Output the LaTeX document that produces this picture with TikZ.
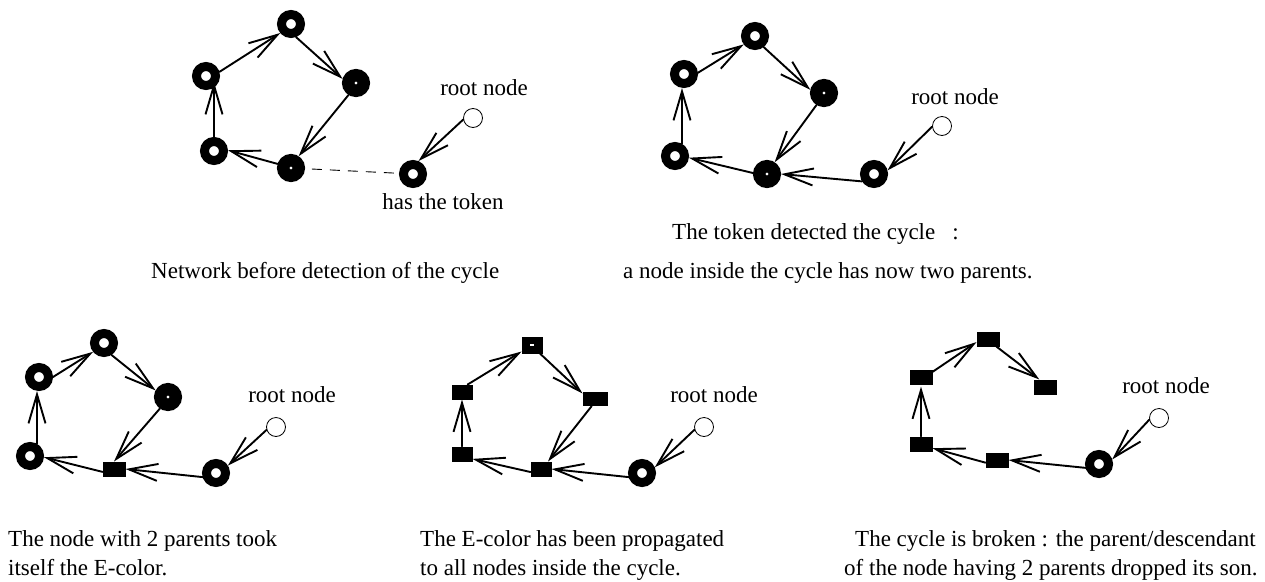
\documentclass[tikz,border=0pt]{standalone}
\usepackage{fontspec}
\setmainfont{Liberation Serif}
\usetikzlibrary{arrows.meta}
\tikzset{
  x=1pt,y=-1pt,
  ringnode/.style={circle,draw=black,fill=white,line width=9pt,minimum size=19pt,inner sep=0pt},
  dotnode/.style={circle,draw=black,fill=white,line width=12.5pt,minimum size=15.5pt,inner sep=0pt},
  rootnode/.style={circle,draw=black,fill=white,line width=0.8pt,minimum size=19pt,inner sep=0pt},
  ecolor/.style={rectangle,fill=black,draw=none,inner sep=0pt,outer sep=0pt,minimum width=23pt,minimum height=15pt},
  wideecolor/.style={ecolor,minimum width=25pt,minimum height=14pt},
  narrowecolor/.style={ecolor,minimum width=21pt},
  label/.style={font=\fontsize{23}{23}\selectfont,inner sep=0pt,anchor=base west},
  rootlabel/.style={font=\fontsize{23}{23}\selectfont,inner sep=0pt,anchor=base},
  link/.style={-{Straight Barb[length=29pt,width=17pt,line width=1.9pt]},line width=1.9pt,line cap=round},
  dashlink/.style={line width=0.9pt,dash pattern=on 10pt off 8pt,shorten <=7pt,shorten >=3pt}
}
\begin{document}
\begin{tikzpicture}
\useasboundingbox (0,0) rectangle (1265,581);
% panel 1
\node[ringnode] (a1) at (291,24) {};
\node[dotnode] (b1) at (356,83) {};
\node[dotnode] (c1) at (291,168) {};
\node[ringnode] (d1) at (214,151) {};
\node[ringnode] (e1) at (206,76) {};
\node[ringnode] (f1) at (413,174) {};
\node[rootnode] (r1) at (473,118) {};
\node[rootlabel] (t1) at (484,95) {root node};
\node[rootlabel] (h1) at (443,209) {has the token};
\draw[link] (e1.17) -- (a1.220);
\draw[link] (a1.-69) -- (b1.163);
\draw[link] (b1.238) -- (c1.57);
\draw[link] (c1.163) -- (d1.3);
\draw[link,shorten >=6pt] (d1.north) -- (d1.north |- e1.center);
\draw[link] (r1.189) -- (f1.67);
\draw[dashlink] (c1) -- (f1);
\node[label] (n1) at (151,278) {Network before detection of the cycle};
% panel 2
\node[ringnode] (a2) at (755,36) {};
\node[dotnode] (b2) at (824,93) {};
\node[dotnode] (c2) at (767,174) {};
\node[ringnode] (d2) at (675,156) {};
\node[ringnode] (e2) at (684,74) {};
\node[ringnode] (f2) at (874,174) {};
\node[rootnode] (r2) at (942,126) {};
\node[rootlabel] (t2) at (955,104) {root node};
\draw[link] (e2.5) -- (a2.217);
\draw[link] (a2.-52) -- (b2.167);
\draw[link] (b2.238) -- (c2.57);
\draw[link] (c2.176) -- (d2.-7);
\draw[link] (d2.60) -- (d2.60 |- e2.south);
\draw[link] (r2.184) -- (f2.15);
\draw[link] (f2.212) -- (c2.0);
\node[label] (n2) at (672,239) {The token detected the cycle\hspace{17pt}:};
\node[label] (m2) at (623,278) {a node inside the cycle has now two parents.};
% panel 3
\node[ringnode] (a3) at (104,343) {};
\node[dotnode] (b3) at (168,397) {};
\node[ecolor] (c3) at (114,469) {};
\node[ringnode] (d3) at (30,456) {};
\node[ringnode] (e3) at (39,377) {};
\node[ringnode] (f3) at (216,473) {};
\node[rootnode] (r3) at (276,427) {};
\node[rootlabel] (t3) at (292,402) {root node};
\draw[link] (e3.0) -- (a3.219);
\draw[link] (a3.-58) -- (b3.152);
\draw[link] (b3.235) -- (c3.north);
\draw[link] (c3.194) -- (d3.-5);
\draw[link] (d3.60) -- (d3.60 |- e3.south);
\draw[link] (r3.197) -- (f3.32);
\draw[link] (f3.197) -- (c3.east);
\node[label] (n3) at (8,546) {The node with 2 parents took};
\node[label] (m3) at (8,575) {itself the E-color.};
% panel 4
\node[narrowecolor,minimum height=17pt] (a4) at (532,345) {};
\node[fill=white,inner sep=0pt,minimum width=4pt,minimum height=1.5pt] (z4) at (532,345) {};
\node[wideecolor] (b4) at (595,399) {};
\node[narrowecolor] (c4) at (541,469) {};
\node[narrowecolor] (d4) at (462,454) {};
\node[narrowecolor] (e4) at (462,392) {};
\node[ringnode] (f4) at (642,473) {};
\node[rootnode] (r4) at (704,427) {};
\node[rootlabel] (t4) at (714,402) {root node};
\draw[link] (e4.53) -- (a4.212);
\draw[link] (a4.-47) -- (b4.156);
\draw[link] (b4.-115) -- (c4.47);
\draw[link] (c4.196) -- (d4.-25);
\draw[link] (d4.north) -- (e4.south);
\draw[link] (r4.196) -- (f4.24);
\draw[link] (f4.197) -- (c4.east);
\node[label] (n4) at (420,546) {The E-color has been propagated};
\node[label] (m4) at (420,575) {to all nodes inside the cycle.};
% panel 5
\node[ecolor] (a5) at (988,339) {};
\node[ecolor] (b5) at (1045,387) {};
\node[ecolor] (c5) at (997,460) {};
\node[ecolor] (d5) at (921,444) {};
\node[ecolor] (e5) at (921,377) {};
\node[ringnode] (f5) at (1099,464) {};
\node[rootnode] (r5) at (1159,418) {};
\node[rootlabel] (t5) at (1166,393) {root node};
\draw[link] (e5.24) -- (a5.195);
\draw[link] (a5.-42) -- (b5.127);
\draw[link] (c5.193) -- (d5.-20);
\draw[link,shorten >=2pt] (d5.north) -- (e5.south);
\draw[link] (r5.190) -- (f5.19);
\draw[link] (f5.196) -- (c5.east);
\node[label] (n5) at (855,546) {The cycle is broken : the parent/descendant};
\node[label] (m5) at (844,575) {of the node having 2 parents dropped its son.};
\end{tikzpicture}
\end{document}
